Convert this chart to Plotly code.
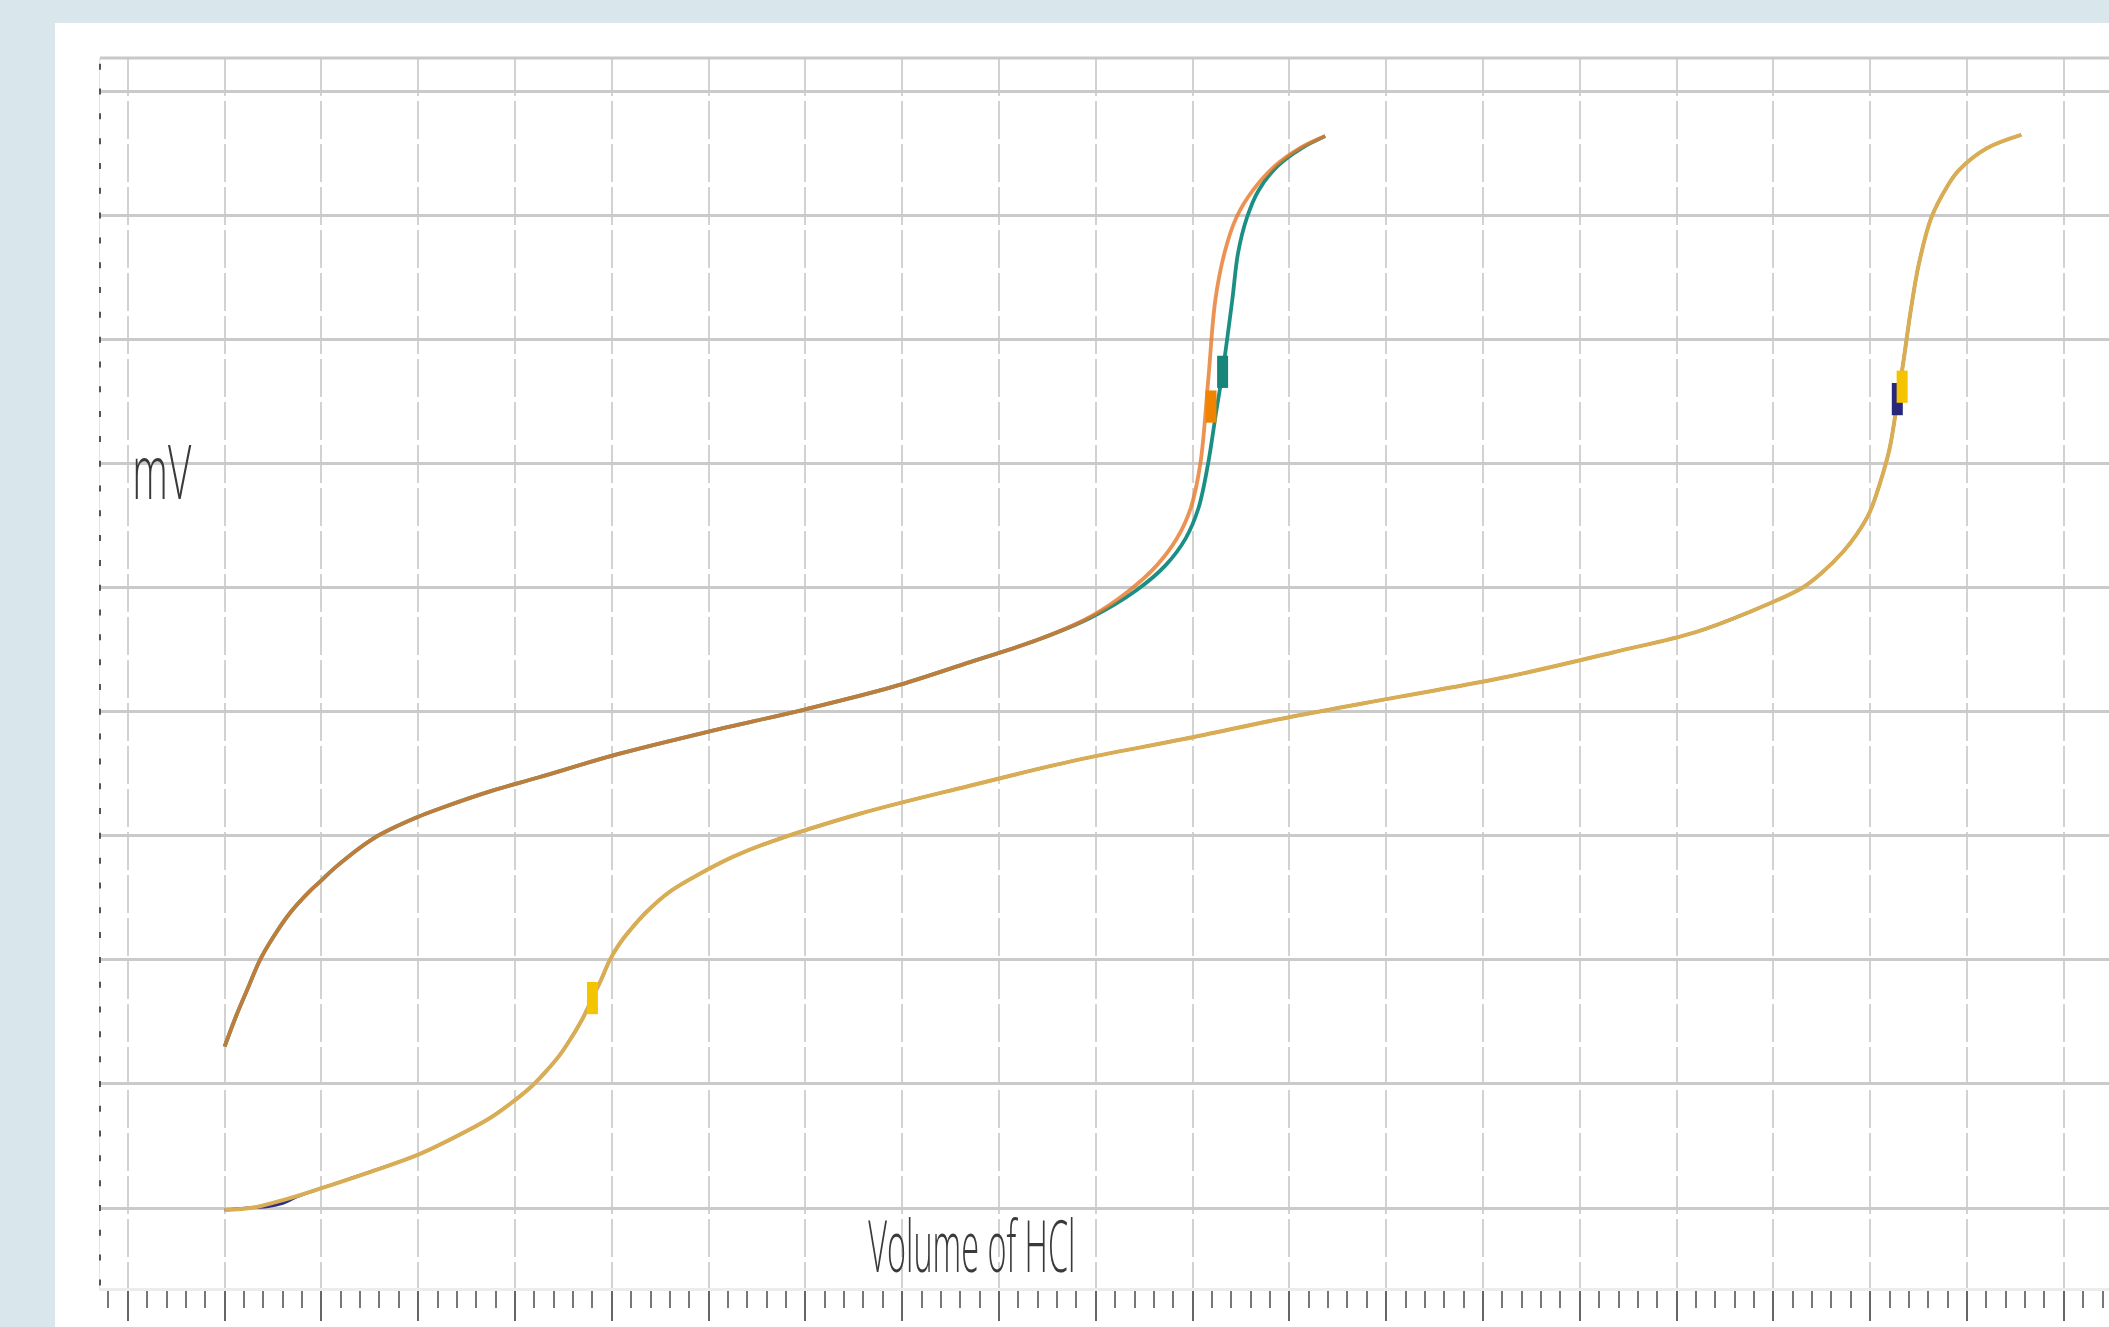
import json
import plotly.graph_objects as go

# ---------------- data ----------------
# Curve 1 - orange series
vol_orange = [0.0, 0.12, 0.25, 0.366, 0.5, 0.667, 0.875, 1.0, 1.15, 1.54, 1.99, 2.26, 2.75,
              3.24, 4.07, 5.0, 6.0, 6.9, 7.7, 8.4, 8.93, 9.35, 9.63, 9.84, 9.98, 10.08,
              10.16, 10.235, 10.33, 10.45, 10.62, 10.85, 11.1, 11.37]
mv_orange = [65, 77.5, 89.5, 100, 109, 118.5, 127.5, 132, 137.5, 149, 157.5, 161.5, 168,
             173.5, 183, 192, 201, 210, 220, 229, 238, 249, 259, 270, 282, 300,
             333, 366, 385, 399, 410, 420, 427, 432]

# Curve 1 - teal series
vol_teal = [0.0, 0.12, 0.25, 0.366, 0.5, 0.667, 0.875, 1.0, 1.15, 1.54, 1.99, 2.26, 2.75,
            3.24, 4.07, 5.0, 6.0, 6.9, 7.7, 8.4, 8.95, 9.42, 9.72, 9.93, 10.06, 10.16,
            10.24, 10.31, 10.41, 10.47, 10.56, 10.68, 10.88, 11.12, 11.37]
mv_teal = [65, 77.5, 89.5, 100, 109, 118.5, 127.5, 132, 137.5, 149, 157.5, 161.5, 168,
           173.5, 183, 192, 201, 210, 220, 229, 238, 249, 259, 270, 282, 300,
           320, 337, 366, 385, 399, 410, 420, 427, 432]

# Curve 2 - gold series
vol_gold = [0.0, 0.3, 0.63, 1.0, 1.5, 2.0, 2.5, 2.75, 3.0, 3.17, 3.33, 3.46, 3.58, 3.7, 3.8,
            3.89, 3.98, 4.08, 4.2, 4.35, 4.6, 4.9, 5.25, 5.6, 6.57, 7.68, 8.8, 9.91, 11.02,
            12.13, 13.24, 14.35, 15.19, 15.74, 16.3, 16.5, 16.72, 16.86, 16.99, 17.1, 17.2,
            17.28, 17.35, 17.42, 17.5, 17.63, 17.8, 17.91, 18.2, 18.56]
mv_gold = [-0.8, 0.2, 3.5, 8, 14.5, 21.5, 31, 36.5, 43.5, 49, 55.5, 61.5, 68.5, 76.5, 84.6,
           92, 100, 106.5, 112.5, 119, 127.5, 134.5, 141.5, 147, 159, 170, 180.5, 189, 198,
           206, 214, 224, 232, 240, 250, 256, 264.5, 271.5, 280, 292, 306,
           325, 343, 362, 380, 399, 412, 418, 427, 432.5]

# Curve 2 - navy series
vol_navy = [0.0, 0.3, 0.45, 0.6, 0.75, 1.0, 1.5, 2.0, 2.5, 2.75, 3.0, 3.17, 3.33, 3.46, 3.58, 3.7,
            3.8, 3.89, 3.98, 4.08, 4.2, 4.35, 4.6, 4.9, 5.25, 5.6, 6.57, 7.68, 8.8, 9.91, 11.02,
            12.13, 13.24, 14.35, 15.19, 15.74, 16.3, 16.5, 16.72, 16.86, 16.99, 17.1, 17.2,
            17.28, 17.35, 17.42, 17.5, 17.63, 17.8, 17.91, 18.2, 18.56]
mv_navy = [-0.8, 0.2, 0.6, 1.9, 4.6, 8, 14.5, 21.5, 31, 36.5, 43.5, 49, 55.5, 61.5, 68.5, 76.5,
           84.6, 92, 100, 106.5, 112.5, 119, 127.5, 134.5, 141.5, 147, 159, 170, 180.5, 189, 198,
           206, 214, 224, 232, 240, 250, 256, 264.5, 271.5, 280, 292, 306,
           325, 343, 362, 380, 399, 412, 418, 427, 432.5]

# Equivalence-point markers
ep_orange_vol, ep_orange_mv = [10.19], [323]
ep_teal_vol, ep_teal_mv = [10.31], [337]
ep_navy_vol, ep_navy_mv = [17.28], [326]
ep_yellow_vol, ep_yellow_mv = [3.8, 17.33], [84.6, 331]

x_title = "Volume of HCl"
y_title = "mV"

# ---------------- styling ----------------
W, H = 2109, 1327
ML, MR, MT, MB = 100, 0, 58, 39
X_RANGE = [-1.2872, 19.467]
Y_RANGE = [-32.24, 463.48]
OUTER = "#d9e6ec"
TEXT_COLOR = "#3a3a3a"
FONT = "Open Sans"

fig = go.Figure()

def line(x, y, color, width, opacity=1.0):
    fig.add_trace(go.Scatter(x=x, y=y, mode="lines", opacity=opacity,
                             line=dict(color=color, width=width, shape="spline", smoothing=1.0),
                             hoverinfo="skip", showlegend=False))

def marker(x, y, color):
    fig.add_trace(go.Scatter(x=x, y=y, mode="markers",
                             marker=dict(symbol="line-ns", size=23,
                                         line=dict(color=color, width=11)),
                             hoverinfo="skip", showlegend=False))

line(vol_teal, mv_teal, "#1b8f83", 3.8)
line(vol_orange, mv_orange, "#e8792a", 3.8, opacity=0.8)
line(vol_navy, mv_navy, "#2e2e8c", 3.0)
line(vol_gold, mv_gold, "#d9ad54", 4.0)

marker(ep_orange_vol, ep_orange_mv, "#f08400")
marker(ep_teal_vol, ep_teal_mv, "#17857a")
marker(ep_navy_vol, ep_navy_mv, "#28287a")
marker(ep_yellow_vol, ep_yellow_mv, "#f5c400")

# paper-space helpers
pw = W - ML - MR
ph = H - MT - MB
def px_x(p):
    return (p - ML) / pw
def px_y(p):
    return (H - MB - p) / ph

shapes = [
    # white panel
    dict(type="rect", xref="paper", yref="paper", x0=px_x(55), x1=px_x(W + 5),
         y0=px_y(H + 5), y1=px_y(23), fillcolor="white", line=dict(width=0), layer="below"),
    # top border
    dict(type="line", xref="paper", yref="paper", x0=0, x1=1, y0=1, y1=1,
         line=dict(color="#c8c8c8", width=3)),
    # dashed left axis
    dict(type="line", xref="paper", yref="y", x0=0, x1=0, y0=-31.2, y1=470,
         line=dict(color="#555555", width=2, dash="6px,18.81px")),
]

fig.update_layout(
    width=W, height=H, autosize=False,
    margin=dict(l=ML, r=MR, t=MT, b=MB),
    paper_bgcolor=OUTER, plot_bgcolor="white",
    showlegend=False,
    shapes=shapes,
    xaxis=dict(range=X_RANGE, dtick=1, tick0=0, showgrid=True, gridcolor="#d2d2d2",
               gridwidth=1.5, griddash="38px,5px", zeroline=False,
               showline=True, linecolor="#ececec", linewidth=3,
               ticks="outside", ticklen=30, tickwidth=2, tickcolor="#666666",
               showticklabels=False,
               minor=dict(dtick=0.2, tick0=0, ticks="outside", ticklen=17, tickwidth=1.6,
                          tickcolor="#777777", showgrid=False)),
    yaxis=dict(range=Y_RANGE, dtick=50, tick0=0, showgrid=True, gridcolor="#cacaca",
               gridwidth=3, zeroline=False, showline=True, linecolor="#e4e4e4",
               linewidth=1, ticks="", showticklabels=False),
    annotations=[
        dict(text=y_title, xref="x", yref="y", x=-0.652, y=297.8, showarrow=False,
             xanchor="center", yanchor="middle",
             font=dict(family=FONT, size=76, color=TEXT_COLOR, weight=300)),
        dict(text=x_title, xref="x", yref="y", x=7.72, y=-14.5, showarrow=False,
             xanchor="center", yanchor="middle",
             font=dict(family=FONT, size=72, color=TEXT_COLOR, weight=300)),
    ],
)

# the reference's labels are drawn in a tall, condensed face: squeeze them horizontally
targets = {y_title: 59, x_title: 207}
post = """
(function(){
  document.documentElement.style.margin = '0';
  document.documentElement.style.padding = '0';
  document.body.style.margin = '0';
  document.body.style.padding = '0';
  document.body.style.overflow = 'hidden';
  var gd = document.getElementById('{plot_id}');
  var targets = %s;
  function squash(){
    gd.querySelectorAll('text.annotation-text').forEach(function(t){
      var w = targets[t.textContent];
      if(!w) return;
      t.style.transform = 'none';
      var bb = t.getBBox();
      if(!bb.width) return;
      t.style.transformBox = 'fill-box';
      t.style.transformOrigin = 'center';
      t.style.transform = 'scaleX(' + (w / bb.width) + ')';
    });
  }
  squash();
  gd.on('plotly_afterplot', squash);
})();
""" % json.dumps(targets)

fig.write_html("out.html", post_script=post, config={"displayModeBar": False})
